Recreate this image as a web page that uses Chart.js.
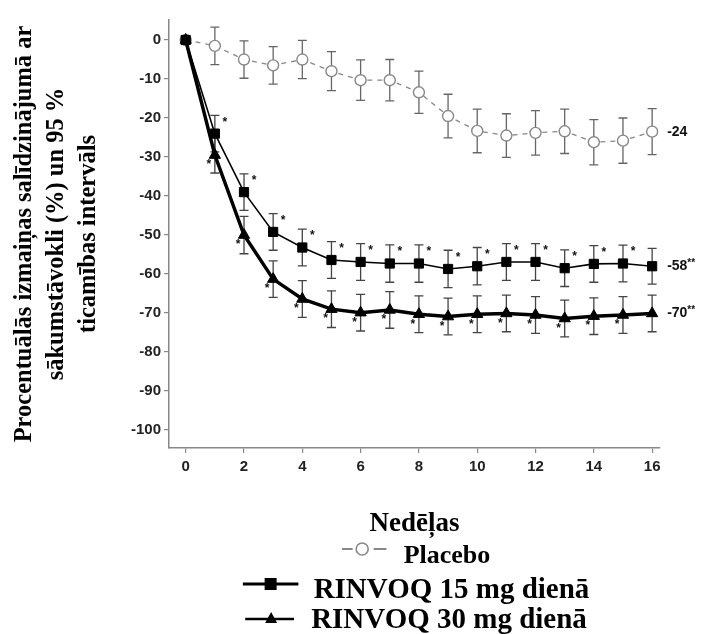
<!DOCTYPE html>
<html>
<head>
<meta charset="utf-8">
<script src="https://cdn.jsdelivr.net/npm/chart.js@4.4.0/dist/chart.umd.min.js"></script>
<style>
body { margin: 0; background: #fff; }
#wrap { position: relative; width: 723px; height: 634px; overflow: hidden; }
#c { position: absolute; left: 0; top: 0; }
.leg { position: absolute; left: 416px; transform: translateX(-50%); display: flex; align-items: center;
       white-space: nowrap; font-family: 'Liberation Serif', 'Times New Roman', serif; font-weight: bold; color: #000; }
.leg svg { position: relative; }
</style>
</head>
<body>
<div id="wrap">
  <canvas id="c" width="723" height="540"></canvas>
  <div class="leg" style="top:539px;height:32px;font-size:26px;line-height:32px">
    <svg width="45" height="16" style="top:-6px;margin-right:17px">
      <line x1="0" y1="8" x2="11" y2="8" stroke="#888" stroke-width="2"/>
      <circle cx="20.5" cy="8" r="6" fill="#fff" stroke="#888" stroke-width="1.6"/>
      <line x1="32" y1="8" x2="45" y2="8" stroke="#888" stroke-width="2"/>
    </svg><span>Placebo</span>
  </div>
  <div class="leg" style="top:572px;height:32px;font-size:29px;line-height:32px">
    <svg width="56" height="16" style="top:-4px;margin-right:15px">
      <line x1="0" y1="8" x2="56" y2="8" stroke="#000" stroke-width="3"/>
      <rect x="22" y="2" width="12" height="12" fill="#000"/>
    </svg><span>RINVOQ 15 mg dienā</span>
  </div>
  <div class="leg" style="top:602px;height:32px;font-size:29px;line-height:32px">
    <svg width="49" height="16" style="top:0px;margin-right:17px">
      <line x1="0" y1="9" x2="49" y2="9" stroke="#000" stroke-width="2.5"/>
      <polygon points="26,2 32,13 20,13" fill="#000"/>
    </svg><span>RINVOQ 30 mg dienā</span>
  </div>
</div>
<script>
var weeks = [0, 1, 2, 3, 4, 5, 6, 7, 8, 9, 10, 11, 12, 13, 14, 15, 16];
var placebo = [0, -1.5, -5, -6.5, -5, -8, -10.3, -10.3, -13.4, -19.5, -23.3, -24.5, -23.8, -23.4, -26.2, -25.8, -23.5];
var placeboCI = [0, 4.8, 4.8, 4.8, 4.9, 5, 5.2, 5.3, 5.4, 5.6, 5.6, 5.6, 5.7, 5.7, 5.8, 5.8, 5.9];
var rinvoq15 = [0, -24, -39, -49.2, -53.2, -56.4, -56.9, -57.3, -57.3, -58.7, -58, -56.9, -56.9, -58.5, -57.4, -57.3, -58];
var rinvoq15CI = [0, 4.7, 4.7, 4.7, 4.7, 4.7, 4.7, 4.8, 4.8, 4.8, 4.8, 4.7, 4.7, 4.7, 4.7, 4.7, 4.6];
var rinvoq30 = [0, -29.5, -50, -61.3, -66.4, -69, -69.9, -69.2, -70.3, -70.9, -70.3, -70.1, -70.5, -71.4, -70.8, -70.5, -70.1];
var rinvoq30CI = [0, 4.6, 4.8, 4.7, 4.7, 4.7, 4.7, 4.7, 4.7, 4.7, 4.7, 4.7, 4.7, 4.7, 4.7, 4.7, 4.7];
var sigWeeks15 = [1, 2, 3, 4, 5, 6, 7, 8, 9, 10, 11, 12, 13, 14, 15];
var sigWeeks30 = [1, 2, 3, 4, 5, 6, 7, 8, 9, 10, 11, 12, 13, 14, 15];
var endLabels = ['-24', '-58', '-70'];
var endStars = ['', '**', '**'];
var xTicks = [0, 2, 4, 6, 8, 10, 12, 14, 16];
var yTicks = [0, -10, -20, -30, -40, -50, -60, -70, -80, -90, -100];

function pts(vals) {
    return weeks.map(function(w, i) { return {x: w, y: vals[i]}; });
}

// whiskers under the markers
var errorBars = {
    id: 'errorBars',
    beforeDatasetsDraw: function(chart) {
        var ctx = chart.ctx, xs = chart.scales.x, ys = chart.scales.y;
        ctx.save();
        ctx.lineWidth = 1.3;
        chart.data.datasets.forEach(function(ds) {
            ctx.strokeStyle = ds.barColor;
            ds.ci.forEach(function(h, i) {
                if (!h) return;
                var x = xs.getPixelForValue(weeks[i]);
                var y1 = ys.getPixelForValue(ds.values[i] + h);
                var y2 = ys.getPixelForValue(ds.values[i] - h);
                ctx.beginPath();
                ctx.moveTo(x, y1); ctx.lineTo(x, y2);
                ctx.moveTo(x - 4.5, y1); ctx.lineTo(x + 4.5, y1);
                ctx.moveTo(x - 4.5, y2); ctx.lineTo(x + 4.5, y2);
                ctx.stroke();
            });
        });
        ctx.restore();
    }
};

// asterisks and end values
var annotations = {
    id: 'annotations',
    afterDatasetsDraw: function(chart) {
        var ctx = chart.ctx, xs = chart.scales.x, ys = chart.scales.y;
        ctx.save();
        ctx.fillStyle = '#111';
        ctx.font = 'bold 12px "Liberation Sans", Arial, sans-serif';
        ctx.textAlign = 'center';
        ctx.textBaseline = 'middle';
        sigWeeks15.forEach(function(w) {
            var i = weeks.indexOf(w);
            ctx.fillText('*', xs.getPixelForValue(w) + 10, ys.getPixelForValue(rinvoq15[i] + rinvoq15CI[i]) + 7);
        });
        sigWeeks30.forEach(function(w) {
            var i = weeks.indexOf(w);
            ctx.fillText('*', xs.getPixelForValue(w) - 6, ys.getPixelForValue(rinvoq30[i]) + 10);
        });
        var last = weeks.length - 1;
        var lasts = [placebo[last], rinvoq15[last], rinvoq30[last]];
        ctx.textAlign = 'left';
        lasts.forEach(function(v, k) {
            var x = xs.getPixelForValue(weeks[last]) + 15;
            var y = ys.getPixelForValue(v);
            ctx.font = 'bold 14px "Liberation Sans", Arial, sans-serif';
            ctx.fillText(endLabels[k], x, y);
            var w = ctx.measureText(endLabels[k]).width;
            ctx.font = 'bold 10px "Liberation Sans", Arial, sans-serif';
            ctx.fillText(endStars[k], x + w, y - 3);
        });
        ctx.restore();
    }
};

var tickFont = {family: '"Liberation Sans", Arial, sans-serif', size: 15, weight: 'bold'};

new Chart(document.getElementById('c'), {
    type: 'line',
    data: {
        datasets: [{
            label: 'RINVOQ 30 mg dienā',
            data: pts(rinvoq30), values: rinvoq30, ci: rinvoq30CI, barColor: '#444',
            borderColor: '#000', borderWidth: 3.5,
            pointStyle: 'triangle', pointRadius: 6.5,
            pointBackgroundColor: '#000', pointBorderColor: '#000', pointBorderWidth: 1
        }, {
            label: 'RINVOQ 15 mg dienā',
            data: pts(rinvoq15), values: rinvoq15, ci: rinvoq15CI, barColor: '#444',
            borderColor: '#000', borderWidth: 1.6,
            pointStyle: 'rect', pointRadius: 6.5,
            pointBackgroundColor: '#000', pointBorderColor: '#000', pointBorderWidth: 1
        }, {
            label: 'Placebo',
            data: pts(placebo), values: placebo, ci: placeboCI, barColor: '#666',
            borderColor: '#888', borderWidth: 1.3, borderDash: [5, 5],
            pointStyle: 'circle', pointRadius: 5.5,
            pointBackgroundColor: '#fff', pointBorderColor: '#888', pointBorderWidth: 1.4
        }]
    },
    options: {
        responsive: false,
        animation: false,
        devicePixelRatio: 1,
        layout: {padding: {top: 20, right: 63, left: 0, bottom: 0}},
        elements: {line: {tension: 0}},
        plugins: {legend: {display: false}, tooltip: {enabled: false}},
        scales: {
            x: {
                type: 'linear', min: -0.573, max: 16.27,
                afterBuildTicks: function(s) { s.ticks = xTicks.map(function(v) { return {value: v}; }); },
                afterFit: function(s) { s.height = 92; },
                grid: {drawOnChartArea: false, drawTicks: true, tickLength: 5, color: '#888', lineWidth: 1.2},
                border: {color: '#888', width: 1.5},
                ticks: {font: tickFont, color: '#222', padding: 5, maxRotation: 0},
                title: {display: true, text: 'Nedēļas', color: '#000',
                        font: {family: '"Liberation Serif", "Times New Roman", serif', size: 27, weight: 'bold', lineHeight: 1.2},
                        padding: {top: 0, bottom: 0}}
            },
            y: {
                type: 'linear', min: -104.6, max: 5.13,
                afterBuildTicks: function(s) { s.ticks = yTicks.map(function(v) { return {value: v}; }); },
                afterFit: function(s) { s.width = 169; },
                grid: {drawOnChartArea: false, drawTicks: true, tickLength: 5, color: '#888', lineWidth: 1.2},
                border: {color: '#888', width: 1.5},
                ticks: {font: tickFont, color: '#222', padding: 3},
                title: {display: true,
                        text: ['Procentuālās izmaiņas salīdzinājumā ar', 'sākumstāvokli (%) un 95 %', 'ticamības intervāls'],
                        color: '#000',
                        font: {family: '"Liberation Serif", "Times New Roman", serif', size: 24.5, weight: 'bold', lineHeight: 1.3},
                        padding: {top: 9, bottom: 0}}
            }
        }
    },
    plugins: [errorBars, annotations]
});
</script>
</body>
</html>
